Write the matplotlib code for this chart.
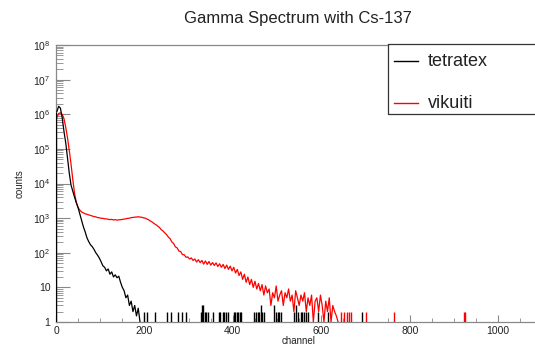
import numpy as np
import matplotlib
matplotlib.use("Agg")
import matplotlib.pyplot as plt
from matplotlib.ticker import MultipleLocator, LogLocator, FixedLocator
from matplotlib.patches import Rectangle
from matplotlib.lines import Line2D

# -------------------------------
# Data (counts per channel, averaged over 4-channel bins)
# -------------------------------

bin_width = 4

tetratex_counts = [
    1200000, 1700000, 1500000, 800000, 320000, 150000, 55000, 20000,
    9000, 6000, 4000, 2800, 2000, 1300, 850, 560,
    400, 270, 210, 170, 150, 125, 100, 85,
    70, 55, 42, 38, 30, 34, 24, 28,
    20, 23, 19, 21, 14, 10, 8, 5,
    6, 3, 4, 2, 3, 1.5, 2.5, 1,
]

vikuiti_counts = [
    800000, 1050000, 1100000, 980000, 750000, 420000, 210000, 90000,
    36000, 13000, 5200, 2800, 2000, 1700, 1500, 1420,
    1330, 1290, 1240, 1190, 1150, 1110, 1085, 1040,
    1020, 990, 985, 955, 950, 925, 905, 920,
    885, 905, 875, 895, 900, 915, 940, 955,
    985, 995, 1035, 1045, 1065, 1075, 1095, 1070,
    1060, 1015, 995, 935, 885, 815, 765, 695,
    645, 585, 535, 465, 425, 375, 335, 285,
    255, 205, 185, 148, 138, 112, 108, 88,
    88, 74, 76, 66, 71, 60, 66, 54,
    63, 52, 60, 47, 58, 46, 56, 44,
    52, 43, 51, 40, 48, 38, 46, 35,
    44, 33, 41, 30, 38, 26, 33, 22,
    28, 17, 24, 14, 20, 12, 17, 10,
    15, 9, 13, 8, 12, 6, 11, 7,
    9, 3, 7, 5, 11, 4, 6, 8,
    3, 7, 5, 9, 4, 6, 2, 8,
    5, 3, 6, 4, 7, 2, 5, 3,
    6, 1, 4, 5, 2, 6, 3, 1,
    4, 2, 5, 1, 3, 2, 1.5, 1,
]

# isolated single-channel entries in the tails
tetratex_spike_ch = [199, 206, 225, 252, 259, 276, 285, 293, 327, 330, 333, 337,
                     340, 343, 355, 368, 372, 377, 381, 385, 389, 402, 405, 409,
                     412, 416, 418, 448, 452, 456, 460, 464, 467, 470, 493, 497,
                     501, 505, 509, 539, 543, 548, 553, 557, 562, 566, 570, 593,
                     616, 691]
tetratex_spike_counts = [2, 2, 2, 2, 2, 2, 2, 2, 2, 3, 3, 2,
                         2, 2, 2, 2, 2, 2, 2, 2, 2, 2, 2, 2,
                         2, 2, 2, 2, 2, 2, 2, 3, 2, 2, 3, 2,
                         2, 2, 2, 2, 3, 2, 2, 2, 2, 2, 2, 2,
                         2, 2]

vikuiti_spike_ch = [645, 652, 657, 663, 668, 702, 764, 922, 925]
vikuiti_spike_counts = [2, 2, 2, 2, 2, 2, 2, 2, 2]

title = "Gamma Spectrum with Cs-137"
labels = ["tetratex", "vikuiti"]

# -------------------------------
# Figure
# -------------------------------

plt.rcParams["font.family"] = ["Liberation Sans", "DejaVu Sans"]
plt.rcParams["mathtext.fontset"] = "custom"
plt.rcParams["mathtext.rm"] = "Liberation Sans"
plt.rcParams["mathtext.it"] = "Liberation Sans"

fig = plt.figure(figsize=(5.35, 3.45), dpi=100)
ax = fig.add_axes([56 / 535, 23 / 345, 0.905, 277 / 345])

centers_t = (np.arange(len(tetratex_counts)) + 0.5) * bin_width
centers_v = (np.arange(len(vikuiti_counts)) + 0.5) * bin_width

# red first, black drawn on top
ax.vlines(0.5, 1, vikuiti_counts[0], color="red", lw=1.0, zorder=3)
ax.plot(centers_v, vikuiti_counts, color="red", lw=0.9, zorder=3)
ax.vlines(vikuiti_spike_ch, 1, vikuiti_spike_counts, color="red", lw=1.0, zorder=3)

ax.vlines(1.0, 1, tetratex_counts[0], color="black", lw=0.8, zorder=4)
ax.plot(centers_t, tetratex_counts, color="black", lw=0.9, zorder=4)
ax.vlines(tetratex_spike_ch, 1, tetratex_spike_counts, color="black", lw=1.0, zorder=4)

ax.set_yscale("log")
ax.set_ylim(1, 1e8)
ax.set_xlim(0, 1095)

# axes styling (ROOT like)
for s in ["top", "bottom", "left", "right"]:
    ax.spines[s].set_color("#888888")
    ax.spines[s].set_linewidth(0.9)
ax.spines["right"].set_visible(False)

ax.xaxis.set_major_locator(MultipleLocator(200))
ax.xaxis.set_minor_locator(MultipleLocator(50))
ax.yaxis.set_major_locator(FixedLocator([10.0 ** k for k in range(9)]))
ax.yaxis.set_minor_locator(LogLocator(base=10, subs=range(2, 10), numticks=20))

ytick_labels = ["1", "10"] + ["$10^{%d}$" % k for k in range(2, 9)]
ax.set_yticklabels(ytick_labels)

ax.tick_params(axis="both", which="both", direction="in", colors="#888888",
               labelcolor="#222222", labelsize=7.5, top=False, right=False)
ax.tick_params(axis="y", which="major", length=10, pad=4)
ax.tick_params(axis="y", which="minor", length=5)
ax.tick_params(axis="x", which="major", length=5, pad=3)
ax.tick_params(axis="x", which="minor", length=3)

ax.set_xlabel("channel", fontsize=7, labelpad=0, color="#222222")
ax.set_ylabel("counts", fontsize=7, labelpad=6, color="#222222")

fig.text(298 / 535, 1 - 18 / 345, title, ha="center", va="center",
         fontsize=12, color="#222222")

# -------------------------------
# Legend box (ROOT style, runs off the right edge)
# -------------------------------

box_l, box_b, box_t = 388 / 535, 1 - 114 / 345, 1 - 44 / 345
box_r = 1.1
fig.patches.append(Rectangle((box_l, box_b), box_r - box_l, box_t - box_b,
                             transform=fig.transFigure, facecolor="white",
                             edgecolor="none", zorder=5))
fig.lines.append(Line2D([box_r, box_l, box_l, box_r], [box_t, box_t, box_b, box_b],
                        color="#333333", lw=0.9, transform=fig.transFigure,
                        zorder=6))
rows = [1 - 61 / 345, 1 - 103 / 345]
for lab, col, yy in zip(labels, ["black", "red"], rows):
    fig.lines.append(Line2D([394 / 535, 418 / 535], [yy, yy], color=col,
                            lw=1.0, transform=fig.transFigure, zorder=6))
    fig.text(428 / 535, yy, lab, ha="left", va="center", fontsize=13,
             color="#222222", zorder=6)

fig.savefig("out.png", dpi=100)
